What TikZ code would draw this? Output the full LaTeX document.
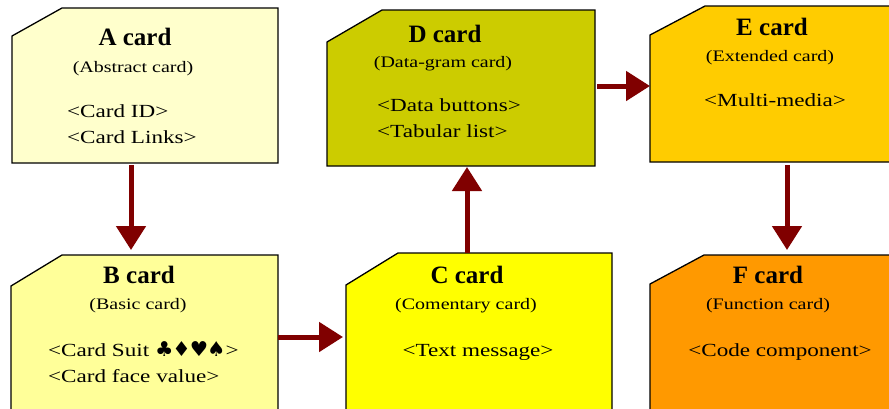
\documentclass[tikz,border=0pt]{standalone}
\usepackage{fontspec}
\setmainfont{Liberation Serif}
\newfontfamily\widefont[FakeStretch=1.25]{Liberation Serif}
\newfontfamily\suitfont{DejaVu Sans}
\usetikzlibrary{arrows.meta}
\definecolor{cA}{HTML}{FFFFCC}
\definecolor{cB}{HTML}{FFFF99}
\definecolor{cC}{HTML}{FFFF00}
\definecolor{cD}{HTML}{CCCC00}
\definecolor{cE}{HTML}{FFCC00}
\definecolor{cF}{HTML}{FF9900}
\definecolor{arrowred}{HTML}{800000}
\newcommand\cardpath[4]{\filldraw[cardline, fill=#2] ([yshift=-#4pt]#1.north west) -- ([xshift=#3pt]#1.north west) -- (#1.north east) -- (#1.south east) -- (#1.south west) -- cycle;}
\tikzset{
  cardbox/.style={draw=none, inner sep=0pt, outer sep=0pt, rectangle},
  cardline/.style={draw=black, line width=1.3pt, line join=miter},
  ttl/.style={font=\fontsize{25}{30}\selectfont\bfseries, anchor=base, inner sep=0pt},
  subt/.style={font=\widefont\fontsize{16}{20}\selectfont, anchor=base, inner sep=0pt},
  bodyl/.style={font=\widefont\fontsize{18.5}{24}\selectfont, anchor=base west, inner sep=0pt},
  bodyc/.style={font=\widefont\fontsize{18.5}{24}\selectfont, anchor=base, inner sep=0pt},
  conn/.style={draw=arrowred, line width=5pt, -{Triangle[width=29pt,length=24pt]}}
}
\begin{document}
\begin{tikzpicture}[x=1pt,y=-1pt]
\useasboundingbox (0,0) rectangle (889,408);
\clip (0,0) rectangle (889,408);
\fill[white] (0,0) rectangle (889,408);
% card frames
\node[cardbox, minimum width=266pt, minimum height=155pt] (A) at (145,85.5) {};
\node[cardbox, minimum width=267pt, minimum height=157pt] (B) at (144.5,333.5) {};
\node[cardbox, minimum width=266pt, minimum height=157pt] (C) at (479,331.5) {};
\node[cardbox, minimum width=268pt, minimum height=156pt] (D) at (461,88) {};
\node[cardbox, minimum width=267pt, minimum height=156pt] (E) at (783.5,84) {};
\node[cardbox, minimum width=267pt, minimum height=157pt] (F) at (783.5,333.5) {};
\cardpath{A}{cA}{50}{28}
\cardpath{B}{cB}{51}{31}
\cardpath{C}{cC}{52}{32}
\cardpath{D}{cD}{55}{32}
\cardpath{E}{cE}{55}{29}
\cardpath{F}{cF}{54}{29}
% A texts
\node[ttl] (At) at (135,45) {A card};
\node[subt] (As) at (133,72) {(Abstract card)};
\node[bodyl] (Ab1) at (67,117) {<Card ID>};
\node[bodyl] (Ab2) at (67,143) {<Card Links>};
% B texts
\node[ttl] (Bt) at (139,283) {B card};
\node[subt] (Bs) at (138,309) {(Basic card)};
\node[bodyl] (Bb1) at (48,356) {<Card Suit {\suitfont\fontsize{20.5}{22}\selectfont ♣\kern-1pt♦\kern-1pt♥\kern-1pt♠}>};
\node[bodyl] (Bb2) at (48,382) {<Card face value>};
% C texts
\node[ttl] (Ct) at (467,283) {C card};
\node[subt] (Cs) at (466,309) {(Comentary card)};
\node[bodyc] (Cb1) at (478,356) {<Text message>};
% D texts
\node[ttl] (Dt) at (445,42) {D card};
\node[subt] (Ds) at (443,67) {(Data-gram card)};
\node[bodyl] (Db1) at (377,111) {<Data buttons>};
\node[bodyl] (Db2) at (377,137) {<Tabular list>};
% E texts
\node[ttl] (Et) at (772,35) {E card};
\node[subt] (Es) at (770,61) {(Extended card)};
\node[bodyc] (Eb1) at (775,106) {<Multi-media>};
% F texts
\node[ttl] (Ft) at (768,283) {F card};
\node[subt] (Fs) at (768,309) {(Function card)};
\node[bodyc] (Fb1) at (780,356) {<Code component>};
% connectors
\draw[conn, shorten <=2pt, shorten >=5pt] ([xshift=-14pt]A.south) -- ([xshift=-14pt]A.south |- B.north);
\draw[conn, shorten >=3pt] ([yshift=-3.5pt]B.east) -- ([yshift=-3.5pt]B.east -| C.west);
\draw[conn, shorten >=1pt] ([xshift=-12pt]C.north) -- ([xshift=-12pt]C.north |- D.south);
\draw[conn, shorten <=2pt] ([yshift=2pt]D.east) -- ([yshift=2pt]D.east -| E.west);
\draw[conn, shorten <=3pt, shorten >=5pt] ([xshift=3.5pt]E.south) -- ([xshift=3.5pt]E.south |- F.north);
\end{tikzpicture}
\end{document}
